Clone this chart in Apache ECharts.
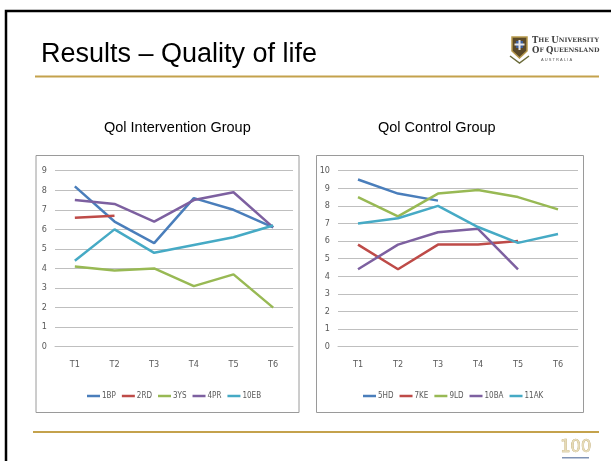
<!DOCTYPE html>
<html>
<head>
<meta charset="utf-8">
<script src="https://cdn.jsdelivr.net/npm/echarts@6/dist/echarts.min.js"></script>
<style>
  html, body { margin: 0; padding: 0; background: #fff; }
  #chart { width: 611px; height: 461px; }
</style>
</head>
<body>
<div id="chart"></div>
<script>
// time points
const categories = ["T1", "T2", "T3", "T4", "T5", "T6"];

// Qol Intervention Group
const bp1 = [8.2, 6.4, 5.3, 7.6, 7.0, 6.1];
const rd2 = [6.6, 6.7, null, null, null, null];
const ys3 = [4.1, 3.9, 4.0, 3.1, 3.7, 2.0];
const pr4 = [7.5, 7.3, 6.4, 7.5, 7.9, 6.1];
const eb10 = [4.4, 6.0, 4.8, 5.2, 5.6, 6.2];

// Qol Control Group
const hd5 = [9.5, 8.7, 8.3, null, null, null];
const ke7 = [5.8, 4.4, 5.8, 5.8, 6.0, null];
const ld9 = [8.5, 7.4, 8.7, 8.9, 8.5, 7.8];
const ba10 = [4.4, 5.8, 6.5, 6.7, 4.4, null];
const ak11 = [7.0, 7.3, 8.0, 6.8, 5.9, 6.4];

const leftNames = ["1BP", "2RD", "3YS", "4PR", "10EB"];
const rightNames = ["5HD", "7KE", "9LD", "10BA", "11AK"];
const leftTicks = [0, 9];
const rightTicks = [0, 10];

const COLORS = ["#4a7ebb", "#be4b48", "#98b954", "#7d60a0", "#46aac5"];
const GOLD = "#c4a24c";
const SMALL_FONT = "'DejaVu Sans Condensed', 'Liberation Sans Narrow', sans-serif";
const SERIF = "'DejaVu Serif', 'Liberation Serif', serif";

function makeSeries(names, values, idx) {
    return names.map((n, i) => ({
        name: n,
        type: "line",
        xAxisIndex: idx,
        yAxisIndex: idx,
        data: values[i],
        symbol: "none",
        connectNulls: false,
        color: COLORS[i],
        lineStyle: { width: 2.5, color: COLORS[i] },
        silent: true,
    }));
}

function xAxisOpt(idx) {
    return {
        type: "category",
        gridIndex: idx,
        data: categories,
        axisLine: { show: true, lineStyle: { color: "#bfbfbf", width: 1 } },
        axisTick: { show: false },
        axisLabel: { color: "#595959", fontSize: 9, fontFamily: SMALL_FONT, margin: 13 },
    };
}

function yAxisOpt(idx, ticks) {
    return {
        type: "value",
        gridIndex: idx,
        min: ticks[0],
        max: ticks[1],
        interval: 1,
        axisLine: { show: false },
        axisTick: { show: false },
        splitLine: { lineStyle: { color: "#bfbfbf", width: 1 } },
        axisLabel: { color: "#595959", fontSize: 9, fontFamily: SMALL_FONT, margin: 8 },
    };
}

function legendOpt(names, start) {
    return {
        data: names,
        left: start,
        top: 392,
        padding: 0,
        icon: "rect",
        itemWidth: 13,
        itemHeight: 2.5,
        itemGap: 6,
        textStyle: { color: "#595959", fontSize: 8, fontFamily: SMALL_FONT, padding: [0, 0, 0, -3] },
        selectedMode: false,
    };
}

const chart = echarts.init(document.getElementById("chart"), null, { renderer: "canvas" });

const option = {
    animation: false,
    backgroundColor: "#fff",
    grid: [
        { left: 55, top: 170.7, width: 238, height: 176 },
        { left: 338, top: 170.7, width: 240, height: 176 },
    ],
    xAxis: [xAxisOpt(0), xAxisOpt(1)],
    yAxis: [yAxisOpt(0, leftTicks), yAxisOpt(1, rightTicks)],
    legend: [legendOpt(leftNames, 87), legendOpt(rightNames, 363)],
    series: [
        ...makeSeries(leftNames, [bp1, rd2, ys3, pr4, eb10], 0),
        ...makeSeries(rightNames, [hd5, ke7, ld9, ba10, ak11], 1),
    ],
    graphic: [
        // slide frame
        { type: "polyline", z: 10, shape: { points: [[6, 461], [6, 11], [611, 11]] },
          style: { stroke: "#000", lineWidth: 2.5, fill: null } },
        // title
        { type: "text", left: 41, top: 41,
          style: { text: "Results \u2013 Quality of life", fill: "#000", font: "27px 'Liberation Sans', Arial, sans-serif" } },
        // gold rules
        { type: "rect", shape: { x: 35, y: 75.5, width: 564, height: 2 }, style: { fill: GOLD } },
        { type: "rect", shape: { x: 33, y: 431, width: 566, height: 2 }, style: { fill: GOLD } },
        // UQ logo
        { type: "polygon", shape: { points: [[512, 37], [527, 37], [527, 51], [519.5, 58], [512, 51]] },
          style: { fill: "#5b4a2a", stroke: "#b89a4c", lineWidth: 1.5 } },
        { type: "rect", shape: { x: 516, y: 41, width: 7, height: 7 }, style: { fill: "#3f5f9a" } },
        { type: "rect", shape: { x: 518.5, y: 40, width: 2, height: 10 }, style: { fill: "#e8e8e8" } },
        { type: "rect", shape: { x: 514.5, y: 43.5, width: 10, height: 2 }, style: { fill: "#e8e8e8" } },
        { type: "polyline", shape: { points: [[510, 56], [519.5, 63], [529, 56]] },
          style: { stroke: "#6b6b3a", lineWidth: 1.5, fill: null } },
        { type: "text", left: 532, top: 36,
          style: { text: "{b|T}{s|HE }{b|U}{s|NIVERSITY}", fill: "#444",
                   rich: { b: { font: "bold 8.5px " + SERIF, fill: "#444" }, s: { font: "bold 6.3px " + SERIF, fill: "#444" } } } },
        { type: "text", left: 532, top: 46,
          style: { text: "{b|O}{s|F }{b|Q}{s|UEENSLAND}", fill: "#444",
                   rich: { b: { font: "bold 8.5px " + SERIF, fill: "#444" }, s: { font: "bold 6.3px " + SERIF, fill: "#444" } } } },
        { type: "text", left: 541, top: 58,
          style: { text: "A U S T R A L I A", fill: "#555", font: "4px 'Liberation Sans', sans-serif" } },
        // subtitles
        { type: "text", left: 104, top: 120,
          style: { text: "Qol Intervention Group", fill: "#000", font: "14.5px 'Liberation Sans', Arial, sans-serif" } },
        { type: "text", left: 378, top: 120,
          style: { text: "Qol Control Group", fill: "#000", font: "14.5px 'Liberation Sans', Arial, sans-serif" } },
        // chart boxes
        { type: "rect", shape: { x: 36, y: 155.5, width: 263, height: 257 },
          style: { fill: null, stroke: "#9a9a9a", lineWidth: 1 } },
        { type: "rect", shape: { x: 316.5, y: 155.5, width: 267, height: 257 },
          style: { fill: null, stroke: "#9a9a9a", lineWidth: 1 } },
        // centenary mark
        { type: "text", left: 560, top: 438,
          style: { text: "100", fill: "#e6dbb8", stroke: "#b8a060", lineWidth: 0.6, font: "18px 'Liberation Sans Narrow', 'DejaVu Sans Condensed', sans-serif" } },
        { type: "rect", shape: { x: 562, y: 457, width: 27, height: 1.5 }, style: { fill: "#7f93b5" } },
    ],
};

chart.setOption(option);
</script>
</body>
</html>
